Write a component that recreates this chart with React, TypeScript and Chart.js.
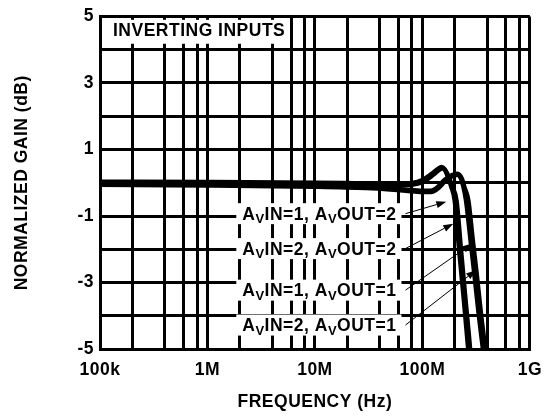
import React, { useEffect, useRef } from 'react';
import { Chart, registerables } from 'chart.js';

Chart.register(...registerables);

// ---- data ----
const xTickValues = [
  1e5, 2e5, 4e5, 6e5, 8e5,
  1e6, 2e6, 4e6, 6e6, 8e6,
  1e7, 2e7, 4e7, 6e7, 8e7,
  1e8, 2e8, 4e8, 6e8, 8e8,
  1e9,
];
const xTickLabelMap: Record<number, string> = { 100000: '100k', 1000000: '1M', 10000000: '10M', 100000000: '100M', 1000000000: '1G' };
const yTickLabels = ['5', '3', '1', '-1', '-3', '-5'];

const seriesNames = ['AVIN=1, AVOUT=2', 'AVIN=2, AVOUT=2', 'AVIN=1, AVOUT=1', 'AVIN=2, AVOUT=1'];
// label text split into [text, isSubscript]
const labelParts: [string, boolean][][] = [
  [['A', false], ['V', true], ['IN=1, A', false], ['V', true], ['OUT=2', false]],
  [['A', false], ['V', true], ['IN=2, A', false], ['V', true], ['OUT=2', false]],
  [['A', false], ['V', true], ['IN=1, A', false], ['V', true], ['OUT=1', false]],
  [['A', false], ['V', true], ['IN=2, A', false], ['V', true], ['OUT=1', false]],
];

const freqA = [1e5, 1e6, 1e7, 3e7, 6e7, 8e7, 1e8, 1.2e8, 1.4e8, 1.5e8, 1.6e8, 1.72e8, 1.85e8, 2.0e8, 2.2e8, 2.43e8, 2.67e8, 2.8e8];
const gainA = [0.03, 0.02, 0.0, -0.02, -0.03, -0.01, 0.08, 0.25, 0.42, 0.47, 0.42, 0.2, -0.1, -0.54, -2.03, -3.51, -5.0, -5.8];

const freqB = [1e5, 1e6, 1e7, 3e7, 6e7, 8e7, 1e8, 1.2e8, 1.4e8, 1.52e8, 1.63e8, 1.76e8, 1.9e8, 2.08e8, 2.29e8, 2.52e8, 2.78e8, 2.9e8];
const gainB = [-0.02, -0.03, -0.05, -0.07, -0.08, -0.06, 0.02, 0.18, 0.36, 0.43, 0.38, 0.18, -0.12, -0.54, -2.03, -3.51, -5.0, -5.8];

const freqC = [1e5, 1e6, 1e7, 3e7, 5e7, 7e7, 1e8, 1.2e8, 1.4e8, 1.6e8, 1.8e8, 2.0e8, 2.12e8, 2.27e8, 2.4e8, 2.55e8, 2.8e8, 3.05e8, 3.33e8, 3.66e8, 3.85e8];
const gainC = [-0.03, -0.05, -0.09, -0.13, -0.17, -0.21, -0.24, -0.24, -0.12, 0.08, 0.2, 0.26, 0.27, 0.15, -0.1, -0.54, -1.7, -2.77, -3.9, -5.0, -5.6];

const freqD = [1e5, 1e6, 1e7, 3e7, 5e7, 7e7, 1e8, 1.2e8, 1.42e8, 1.63e8, 1.84e8, 2.05e8, 2.18e8, 2.33e8, 2.46e8, 2.68e8, 2.94e8, 3.21e8, 3.5e8, 3.84e8, 4.0e8];
const gainD = [-0.06, -0.08, -0.12, -0.16, -0.2, -0.24, -0.28, -0.28, -0.15, 0.05, 0.17, 0.23, 0.24, 0.12, -0.13, -0.54, -1.7, -2.77, -3.9, -5.0, -5.6];

// annotation anchors (frequency, gain)
const labelX = 2.11e6;
const labelY = [-0.93, -1.98, -3.23, -4.28];
const arrowTipF = [1.67e8, 1.94e8, 2.9e8, 3.16e8];
const arrowTipG = [-0.57, -1.23, -1.83, -2.63];
const titleText = 'INVERTING INPUTS';

const FONT = "'Liberation Sans', Arial, Helvetica, sans-serif";
const FS = 17.5;
const LS = '0.5px';

const annotationPlugin = {
  id: 'annotations',
  beforeLayout(chart: any) {
    chart.ctx.letterSpacing = LS;
  },
  beforeDraw(chart: any) {
    chart.ctx.letterSpacing = LS;
  },
  beforeDatasetsDraw(chart: any) {
    const { ctx, scales } = chart;
    const x = scales.x;
    const y = scales.y;
    const area = chart.chartArea;
    ctx.save();
    ctx.letterSpacing = LS;
    // title box
    const bx0 = area.left + 2;
    const bx1 = x.getPixelForValue(5.6e6);
    const by0 = y.getPixelForValue(4.9);
    const by1 = y.getPixelForValue(4.18);
    ctx.fillStyle = '#fff';
    ctx.fillRect(bx0, by0, bx1 - bx0, by1 - by0);
    ctx.fillStyle = '#000';
    ctx.font = `700 ${FS}px ${FONT}`;
    ctx.textBaseline = 'middle';
    ctx.textAlign = 'left';
    ctx.fillText(titleText, x.getPixelForValue(1.32e5), y.getPixelForValue(4.55));

    // series labels
    const mainFont = `700 ${FS}px ${FONT}`;
    const subFont = `700 13px ${FONT}`;
    const ends: number[] = [];
    labelParts.forEach((parts, i) => {
      let w = 0;
      parts.forEach(([t, sub]) => {
        ctx.font = sub ? subFont : mainFont;
        w += ctx.measureText(t).width;
      });
      const tx = x.getPixelForValue(labelX);
      const cy = y.getPixelForValue(labelY[i]);
      ctx.fillStyle = '#fff';
      ctx.fillRect(tx - 6, cy - 10.5, w + 11, 21);
      ctx.fillStyle = '#000';
      ctx.textBaseline = 'alphabetic';
      const base = cy + 6.2;
      let cx = tx;
      parts.forEach(([t, sub]) => {
        ctx.font = sub ? subFont : mainFont;
        ctx.fillText(t, cx, sub ? base + 3.5 : base);
        cx += ctx.measureText(t).width;
      });
      ends.push(tx + w);
    });
    (chart as any)._labelEnds = ends;
    ctx.restore();
  },
  afterDatasetsDraw(chart: any) {
    const { ctx, scales } = chart;
    const x = scales.x;
    const y = scales.y;
    const ends: number[] = (chart as any)._labelEnds || [];
    ctx.save();
    ctx.strokeStyle = '#000';
    ctx.fillStyle = '#000';
    ctx.lineWidth = 1;
    labelY.forEach((g, i) => {
      const sx = (ends[i] ?? 398) + 9;
      const sy = y.getPixelForValue(g);
      const ex = x.getPixelForValue(arrowTipF[i]);
      const ey = y.getPixelForValue(arrowTipG[i]);
      const ang = Math.atan2(ey - sy, ex - sx);
      const hl = 10;
      const hw = 3.5;
      const bxp = ex - hl * Math.cos(ang);
      const byp = ey - hl * Math.sin(ang);
      ctx.beginPath();
      ctx.moveTo(sx, sy);
      ctx.lineTo(bxp, byp);
      ctx.stroke();
      ctx.beginPath();
      ctx.moveTo(ex, ey);
      ctx.lineTo(bxp + hw * Math.sin(ang), byp - hw * Math.cos(ang));
      ctx.lineTo(bxp - hw * Math.sin(ang), byp + hw * Math.cos(ang));
      ctx.closePath();
      ctx.fill();
    });
    ctx.restore();
  },
};

function toPoints(f: number[], g: number[]) {
  return f.map((v, i) => ({ x: v, y: g[i] }));
}

export default function App() {
  const ref = useRef<HTMLCanvasElement | null>(null);
  useEffect(() => {
    if (!ref.current) return;
    const series = [
      [freqA, gainA],
      [freqB, gainB],
      [freqC, gainC],
      [freqD, gainD],
    ];
    const tickFont = { family: FONT, size: FS, weight: 'bold' as const };
    const chart = new Chart(ref.current, {
      type: 'line',
      data: {
        datasets: series.map(([f, g], i) => ({
          label: seriesNames[i],
          data: toPoints(f, g),
          borderColor: '#000',
          backgroundColor: '#000',
          borderWidth: 4.5,
          pointRadius: 0,
          fill: false,
          cubicInterpolationMode: 'monotone' as const,
          clip: 0,
        })),
      },
      options: {
        animation: false,
        responsive: false,
        devicePixelRatio: 1,
        layout: { padding: { left: 0, right: 21, top: 15, bottom: 0 } },
        plugins: { legend: { display: false }, tooltip: { enabled: false } },
        scales: {
          x: {
            type: 'logarithmic',
            min: 1e5,
            max: 1e9,
            afterBuildTicks: (s: any) => {
              s.ticks = xTickValues.map((v) => ({ value: v }));
            },
            afterFit: (s: any) => {
              s.height = 70;
            },
            ticks: {
              autoSkip: false,
              maxRotation: 0,
              minRotation: 0,
              color: '#000',
              font: tickFont,
              padding: 11,
              callback: (v: any) => xTickLabelMap[Number(v)] ?? '',
            },
            grid: { color: '#000', lineWidth: 3, drawTicks: false },
            border: { color: '#000', width: 3 },
            title: {
              display: true,
              text: 'FREQUENCY (Hz)',
              color: '#000',
              font: { family: FONT, size: FS, weight: 'bold' },
              padding: { top: 0, bottom: 6 },
            },
          },
          y: {
            type: 'linear',
            min: -5,
            max: 5,
            afterFit: (s: any) => {
              s.width = 100;
            },
            ticks: {
              stepSize: 1,
              color: '#000',
              font: tickFont,
              padding: 6,
              callback: (v: any) => {
                const s = String(v);
                return yTickLabels.includes(s) ? s : '';
              },
            },
            grid: { color: '#000', lineWidth: 3, drawTicks: false },
            border: { color: '#000', width: 3 },
            title: {
              display: true,
              text: 'NORMALIZED GAIN (dB)',
              color: '#000',
              font: { family: FONT, size: FS, weight: 'bold' },
              padding: { top: 12, bottom: 0 },
            },
          },
        },
      },
      plugins: [annotationPlugin],
    } as any);
    return () => chart.destroy();
  }, []);
  return (
    <div style={{ position: 'fixed', left: 0, top: 0, width: 553, height: 419, background: '#fff' }}>
      <canvas ref={ref} width={553} height={419} style={{ display: 'block' }} />
    </div>
  );
}
